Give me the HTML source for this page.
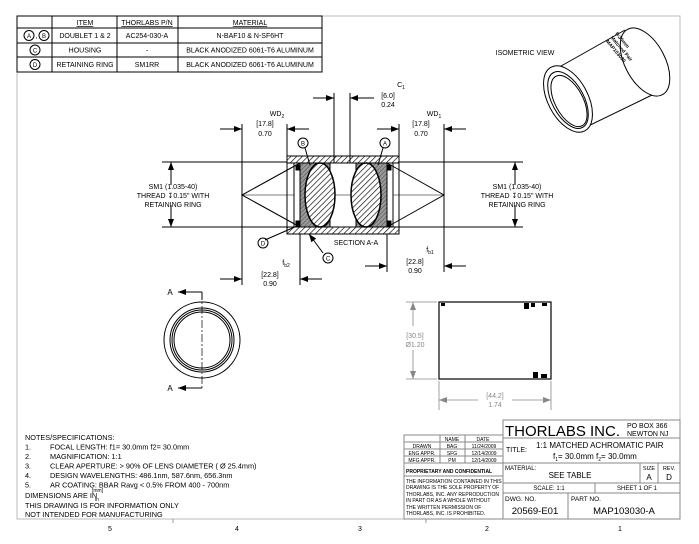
<!DOCTYPE html>
<html><head><meta charset="utf-8"><style>
html,body{margin:0;padding:0;background:#fff}
svg{display:block;font-family:"Liberation Sans",sans-serif}
</style></head><body>
<svg width="699" height="544" viewBox="0 0 699 544" xmlns="http://www.w3.org/2000/svg">
<defs>
<pattern id="h" width="4" height="4" patternUnits="userSpaceOnUse" patternTransform="rotate(45)"><rect width="4" height="4" fill="#fff"/><line x1="0" y1="0" x2="0" y2="4" stroke="#000" stroke-width="1.3"/></pattern>
<pattern id="g" width="3" height="3" patternUnits="userSpaceOnUse" patternTransform="rotate(45)"><rect width="3" height="3" fill="#999"/><line x1="0" y1="0" x2="0" y2="3" stroke="#333" stroke-width="0.8"/></pattern>
<marker id="ar" markerWidth="8" markerHeight="6" refX="8" refY="3" orient="auto" markerUnits="userSpaceOnUse"><path d="M0,0L8,3L0,6z" fill="#000"/></marker>
<marker id="ag" markerWidth="8" markerHeight="6" refX="8" refY="3" orient="auto" markerUnits="userSpaceOnUse"><path d="M0,0L8,3L0,6z" fill="#888"/></marker>
</defs>
<rect x="17" y="16" width="663" height="503" fill="none" stroke="#bbb" stroke-width="1"/>
<g font-size="7" text-anchor="middle">
<text x="110" y="531">5</text><text x="237" y="531">4</text><text x="360" y="531">3</text><text x="487" y="531">2</text><text x="620" y="531">1</text>
</g>
<line x1="173" y1="519" x2="173" y2="523" stroke="#999"/><line x1="426" y1="519" x2="426" y2="523" stroke="#999"/>

<!-- BOM table -->
<g stroke="#000" stroke-width="1" fill="none">
<rect x="17" y="16" width="305" height="56"/>
<line x1="17" y1="28" x2="322" y2="28"/><line x1="17" y1="43" x2="322" y2="43"/><line x1="17" y1="57" x2="322" y2="57"/>
<line x1="52" y1="16" x2="52" y2="72"/><line x1="117" y1="16" x2="117" y2="72"/><line x1="178" y1="16" x2="178" y2="72"/>
<circle cx="29" cy="35.5" r="5"/><circle cx="44" cy="35.5" r="5"/><circle cx="35" cy="50" r="5"/><circle cx="35" cy="64.5" r="5"/>
</g>
<g font-size="7" text-anchor="middle">
<text x="85" y="25" text-decoration="underline">ITEM</text><text x="147" y="25" text-decoration="underline">THORLABS P/N</text><text x="250" y="25" text-decoration="underline">MATERIAL</text>
<text x="29" y="38" font-size="6">A</text><text x="36.5" y="38">,</text><text x="44" y="38" font-size="6">B</text><text x="35" y="52.5" font-size="6">C</text><text x="35" y="67" font-size="6">D</text>
<text x="85" y="38">DOUBLET 1 &amp; 2</text><text x="147" y="38">AC254-030-A</text><text x="250" y="38">N-BAF10 &amp; N-SF6HT</text>
<text x="85" y="52.5">HOUSING</text><text x="147" y="52.5">-</text><text x="250" y="52.5">BLACK ANODIZED 6061-T6 ALUMINUM</text>
<text x="85" y="67">RETAINING RING</text><text x="147" y="67">SM1RR</text><text x="250" y="67">BLACK ANODIZED 6061-T6 ALUMINUM</text>
</g>

<!-- isometric -->
<text x="525" y="55" font-size="7" text-anchor="middle">ISOMETRIC VIEW</text>
<g stroke="#000" fill="none" stroke-width="1">
<ellipse cx="645" cy="62" rx="20" ry="37" transform="rotate(-28 645 62)" fill="#fff"/>
<path d="M554,70 L625,30"/><path d="M580,130 L652,95"/>
<ellipse cx="568" cy="99" rx="20" ry="36" transform="rotate(-28 568 99)" fill="#fff"/>
<ellipse cx="568" cy="100" rx="16" ry="31" transform="rotate(-28 568 100)"/>
<ellipse cx="569" cy="101" rx="14" ry="28" transform="rotate(-28 569 101)"/>
</g>
<g font-size="5" font-weight="bold" transform="rotate(50 620 40)"><text x="612" y="40">f=30mm</text><text x="612" y="46">Matched Pair</text><text x="612" y="52">MAP103030</text></g>

<!-- Section A-A -->
<g stroke="#000" stroke-width="1" fill="none">
<line x1="162" y1="162" x2="523" y2="162"/><line x1="162" y1="227" x2="523" y2="227"/>
<line x1="242" y1="195" x2="444" y2="195" stroke-width="0.6"/>
<rect x="287" y="156" width="112" height="7" fill="url(#h)"/>
<rect x="287" y="227" width="112" height="7" fill="url(#h)"/>
<rect x="287" y="156" width="112" height="78"/>
<rect x="300" y="163" width="30" height="64" fill="url(#g)" stroke="#000"/>
<rect x="356" y="163" width="31" height="64" fill="url(#g)" stroke="#000"/>
<ellipse cx="320" cy="195" rx="15" ry="32" fill="url(#h)" stroke-width="1.5"/>
<ellipse cx="366" cy="195" rx="15" ry="32" fill="url(#h)" stroke-width="1.5"/>
<rect x="294" y="163" width="6" height="64" fill="#fff"/>
<rect x="387" y="163" width="6" height="64" fill="#fff"/>
<rect x="296" y="165" width="4" height="5" fill="#000"/><rect x="296" y="221" width="4" height="5" fill="#000"/>
<rect x="387" y="165" width="4" height="5" fill="#000"/><rect x="387" y="221" width="4" height="5" fill="#000"/>
<polyline points="300,163 242,195 300,227"/>
<polyline points="387,163 444,195 387,227"/>
<line x1="242" y1="124" x2="242" y2="285"/><line x1="287" y1="124" x2="287" y2="156"/>
<line x1="399" y1="124" x2="399" y2="156"/><line x1="444" y1="124" x2="444" y2="272"/>
<line x1="334" y1="93" x2="334" y2="163"/><line x1="350" y1="93" x2="350" y2="163"/>
<line x1="300" y1="234" x2="300" y2="285"/><line x1="387" y1="234" x2="387" y2="272"/>
</g>
<g stroke="#000" stroke-width="1" fill="none">
<line x1="220" y1="129" x2="242" y2="129" marker-end="url(#ar)"/><line x1="309" y1="129" x2="287" y2="129" marker-end="url(#ar)"/>
<line x1="377" y1="129" x2="399" y2="129" marker-end="url(#ar)"/><line x1="466" y1="129" x2="444" y2="129" marker-end="url(#ar)"/>
<line x1="313" y1="98" x2="334" y2="98" marker-end="url(#ar)"/><line x1="374" y1="98" x2="350" y2="98" marker-end="url(#ar)"/>
<line x1="220" y1="279" x2="242" y2="279" marker-end="url(#ar)"/><line x1="322" y1="279" x2="300" y2="279" marker-end="url(#ar)"/>
<line x1="365" y1="266" x2="387" y2="266" marker-end="url(#ar)"/><line x1="466" y1="266" x2="444" y2="266" marker-end="url(#ar)"/>
<line x1="171" y1="185" x2="171" y2="162" marker-end="url(#ar)"/><line x1="171" y1="205" x2="171" y2="227" marker-end="url(#ar)"/>
<line x1="515" y1="185" x2="515" y2="162" marker-end="url(#ar)"/><line x1="515" y1="205" x2="515" y2="227" marker-end="url(#ar)"/>
<line x1="265" y1="240" x2="297" y2="226"/><line x1="323" y1="253" x2="309" y2="234" marker-end="url(#ar)"/>
<line x1="305" y1="148" x2="310" y2="165"/><line x1="383" y1="148" x2="378" y2="165"/>
<circle cx="303" cy="143" r="5"/><circle cx="385" cy="143" r="5"/><circle cx="263" cy="243" r="5"/><circle cx="328" cy="258" r="5"/>
</g>
<g font-size="7" text-anchor="middle">
<text x="303" y="145.5" font-size="6">B</text><text x="385" y="145.5" font-size="6">A</text><text x="263" y="245.5" font-size="6">D</text><text x="328" y="260.5" font-size="6">C</text>
<text x="265" y="126">[17.8]</text><text x="265" y="136">0.70</text><text x="277" y="116">WD<tspan font-size="5" dy="2">2</tspan></text>
<text x="421" y="126">[17.8]</text><text x="421" y="136">0.70</text><text x="434" y="116">WD<tspan font-size="5" dy="2">1</tspan></text>
<text x="388" y="98">[6.0]</text><text x="388" y="107">0.24</text><text x="401" y="87">C<tspan font-size="5" dy="2">1</tspan></text>
<text x="270" y="277">[22.8]</text><text x="270" y="286">0.90</text><text x="286" y="265">f<tspan font-size="5" dy="2">b2</tspan></text>
<text x="415" y="264">[22.8]</text><text x="415" y="273">0.90</text><text x="430" y="252">f<tspan font-size="5" dy="2">b1</tspan></text>
<text x="173" y="189">SM1 (1.035-40)</text><text x="173" y="198">THREAD ↧0.15" WITH</text><text x="173" y="207">RETAINING RING</text>
<text x="517" y="189">SM1 (1.035-40)</text><text x="517" y="198">THREAD ↧0.15" WITH</text><text x="517" y="207">RETAINING RING</text>
<text x="356" y="245">SECTION A-A</text>
</g>

<!-- front view -->
<g stroke="#000" fill="none" stroke-width="1">
<circle cx="202" cy="340" r="38"/><circle cx="202" cy="340" r="32"/><circle cx="202" cy="340" r="30"/><circle cx="202" cy="340" r="28"/>
<line x1="202" y1="292" x2="202" y2="388" stroke-dasharray="8,2,2,2" stroke-width="0.7"/>
<line x1="202" y1="292" x2="178" y2="292" marker-end="url(#ar)"/><line x1="202" y1="388" x2="178" y2="388" marker-end="url(#ar)"/>
<line x1="202" y1="292" x2="202" y2="300"/>
</g>
<text x="170" y="295" font-size="8" text-anchor="middle">A</text><text x="170" y="391" font-size="8" text-anchor="middle">A</text>

<!-- side view -->
<g stroke="#000" fill="none" stroke-width="1.2">
<rect x="439" y="302" width="112" height="77"/>
</g>
<g fill="#000"><rect x="441" y="303" width="4" height="3"/><rect x="524" y="303" width="5" height="6"/><rect x="531" y="303" width="4" height="4"/><rect x="542" y="303" width="5" height="3"/><rect x="533" y="372" width="5" height="6"/><rect x="541" y="374" width="6" height="4"/></g>
<g stroke="#888" stroke-width="0.8" fill="none">
<line x1="406" y1="302" x2="437" y2="302"/><line x1="406" y1="379" x2="437" y2="379"/>
<line x1="413" y1="326" x2="413" y2="302" marker-end="url(#ag)"/><line x1="413" y1="350" x2="413" y2="379" marker-end="url(#ag)"/>
<line x1="439" y1="381" x2="439" y2="410"/><line x1="551" y1="381" x2="551" y2="410"/>
<line x1="478" y1="400" x2="439" y2="400" marker-end="url(#ag)"/><line x1="512" y1="400" x2="551" y2="400" marker-end="url(#ag)"/>
</g>
<g font-size="7" fill="#888" text-anchor="middle">
<text x="415" y="338">[30.5]</text><text x="415" y="347">Ø1.20</text>
<text x="495" y="398">[44.2]</text><text x="495" y="407">1.74</text>
</g>

<!-- notes -->
<g font-size="7.3">
<text x="25" y="440">NOTES/SPECIFICATIONS:</text>
<text x="25" y="449.5">1.</text><text x="50" y="449.5">FOCAL LENGTH: f1= 30.0mm   f2= 30.0mm</text>
<text x="25" y="459">2.</text><text x="50" y="459">MAGNIFICATION:  1:1</text>
<text x="25" y="468.5">3.</text><text x="50" y="468.5">CLEAR APERTURE: &gt; 90% OF LENS DIAMETER ( Ø 25.4mm)</text>
<text x="25" y="478">4.</text><text x="50" y="478">DESIGN WAVELENGTHS: 486.1nm, 587.6nm, 656.3nm</text>
<text x="25" y="487.5">5.</text><text x="50" y="487.5">AR COATING: BBAR Ravg &lt; 0.5% FROM 400 - 700nm</text>
<text x="25" y="498">DIMENSIONS ARE IN</text><text x="92" y="492" font-size="5">[mm]</text><text x="95" y="501" font-size="5">in</text>
<text x="25" y="508">THIS DRAWING IS FOR INFORMATION ONLY</text>
<text x="25" y="517">NOT INTENDED FOR MANUFACTURING</text>
</g>

<!-- title block -->
<g stroke="#888" stroke-width="1" fill="none">
<rect x="404" y="435" width="99" height="84"/>
<line x1="404" y1="442" x2="503" y2="442"/><line x1="404" y1="449" x2="503" y2="449"/><line x1="404" y1="456" x2="503" y2="456"/><line x1="404" y1="463" x2="503" y2="463"/><line x1="404" y1="476" x2="503" y2="476"/>
<line x1="440" y1="435" x2="440" y2="463"/><line x1="465" y1="435" x2="465" y2="463"/>
<rect x="503" y="420" width="177" height="99"/>
<line x1="503" y1="438" x2="680" y2="438"/><line x1="503" y1="463" x2="680" y2="463"/><line x1="503" y1="483" x2="680" y2="483"/><line x1="503" y1="493" x2="680" y2="493"/>
<line x1="640" y1="463" x2="640" y2="483"/><line x1="658" y1="463" x2="658" y2="483"/><line x1="595" y1="483" x2="595" y2="493"/><line x1="568" y1="493" x2="568" y2="519"/>
</g>
<g font-size="5">
<text x="452" y="441" text-anchor="middle">NAME</text><text x="483" y="441" text-anchor="middle">DATE</text>
<text x="422" y="448" text-anchor="middle">DRAWN</text><text x="452" y="448" text-anchor="middle">BAG</text><text x="484" y="448" text-anchor="middle">11/24/2009</text>
<text x="422" y="455" text-anchor="middle">ENG APPR.</text><text x="452" y="455" text-anchor="middle">SFG</text><text x="484" y="455" text-anchor="middle">12/14/2009</text>
<text x="422" y="462" text-anchor="middle">MFG APPR.</text><text x="452" y="462" text-anchor="middle">PM</text><text x="484" y="462" text-anchor="middle">12/14/2009</text>
<text x="406" y="473" font-weight="bold">PROPRIETARY AND CONFIDENTIAL</text>
<text x="406" y="483">THE INFORMATION CONTAINED IN THIS</text>
<text x="406" y="489">DRAWING IS THE SOLE PROPERTY OF</text>
<text x="406" y="496">THORLABS, INC.  ANY REPRODUCTION</text>
<text x="406" y="502">IN PART OR AS A WHOLE WITHOUT</text>
<text x="406" y="509">THE WRITTEN PERMISSION OF</text>
<text x="406" y="515">THORLABS, INC. IS PROHIBITED.</text>
</g>
<text x="505" y="436" font-size="15" textLength="115" lengthAdjust="spacingAndGlyphs">THORLABS INC.</text>
<text x="627" y="428" font-size="7">PO BOX 366</text><text x="627" y="436" font-size="7">NEWTON NJ</text>
<text x="506" y="452" font-size="7">TITLE:</text>
<text x="536" y="448" font-size="8">1:1 MATCHED ACHROMATIC PAIR</text>
<text x="553" y="459" font-size="8">f<tspan font-size="5" dy="2">1</tspan><tspan dy="-2">= 30.0mm  f</tspan><tspan font-size="5" dy="2">2</tspan><tspan dy="-2">= 30.0mm</tspan></text>
<text x="505" y="470" font-size="6">MATERIAL:</text>
<text x="570" y="478" font-size="8" text-anchor="middle">SEE TABLE</text>
<text x="649" y="470" font-size="5.5" text-anchor="middle">SIZE</text><text x="649" y="480" font-size="8" text-anchor="middle">A</text>
<text x="669" y="470" font-size="5.5" text-anchor="middle">REV.</text><text x="669" y="480" font-size="8" text-anchor="middle">D</text>
<text x="549" y="490" font-size="6" text-anchor="middle">SCALE: 1:1</text><text x="637" y="490" font-size="6" text-anchor="middle">SHEET 1 OF 1</text>
<text x="505" y="501" font-size="6.5">DWG.  NO.</text><text x="571" y="501" font-size="6.5">PART  NO.</text>
<text x="535" y="514" font-size="9.5" text-anchor="middle">20569-E01</text>
<text x="624" y="514" font-size="9.5" text-anchor="middle">MAP103030-A</text>
</svg>
</body></html>
